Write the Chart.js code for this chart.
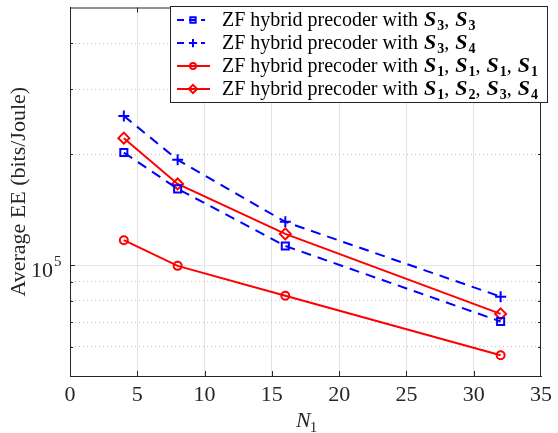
<!DOCTYPE html>
<html>
<head>
<meta charset="utf-8">
<script src="https://cdn.jsdelivr.net/npm/chart.js@4.4.0/dist/chart.umd.min.js"></script>
<style>
  html, body { margin: 0; padding: 0; background: #fff; }
</style>
</head>
<body>
<canvas id="chart" width="558" height="433"></canvas>
<script>
// data
const N1 = [4, 8, 16, 32];
const eeS3S3 = [2.02e5, 1.61e5, 1.127e5, 7.03e4];
const eeS3S4 = [2.54e5, 1.93e5, 1.31e5, 8.21e4];
const eeS1x4 = [1.168e5, 9.95e4, 8.26e4, 5.69e4];
const eeS1234 = [2.21e5, 1.66e5, 1.215e5, 7.37e4];

const xTicks = [0, 5, 10, 15, 20, 25, 30, 35];
const yTicks = [5e4, 6e4, 7e4, 8e4, 9e4, 1e5, 2e5, 3e5, 4e5, 5e5];
const legendPrefix = 'ZF hybrid precoder with ';
const legendSubs = [['3', '3'], ['3', '4'], ['1', '1', '1', '1'], ['1', '2', '3', '4']];

const AXIS = '#262626';
const SERIF = '"Liberation Serif", "Times New Roman", serif';

function pts(ys) {
    return N1.map((x, i) => ({ x: x, y: ys[i] }));
}

const datasets = [
    { data: pts(eeS3S3), borderColor: '#0000ff', borderDash: [10, 7], pointStyle: 'rect', pointRadius: 5 },
    { data: pts(eeS3S4), borderColor: '#0000ff', borderDash: [10, 7], pointStyle: 'cross', pointRadius: 5.5 },
    { data: pts(eeS1x4), borderColor: '#ff0000', borderDash: [], pointStyle: 'circle', pointRadius: 4 },
    { data: pts(eeS1234), borderColor: '#ff0000', borderDash: [], pointStyle: 'rectRot', pointRadius: 5.5 }
].map(d => Object.assign(d, {
    borderWidth: 2,
    pointBorderColor: d.borderColor,
    pointBackgroundColor: 'rgba(0,0,0,0)',
    pointBorderWidth: 2,
    tension: 0
}));

// frame, inward ticks, 10^5 label, N1 label, legend
const matlabFrame = {
    id: 'matlabFrame',
    afterDraw(chart) {
        const { ctx, chartArea: a, scales: { x, y } } = chart;
        ctx.save();
        ctx.strokeStyle = AXIS;
        ctx.lineWidth = 1;
        ctx.beginPath();
        ctx.moveTo(a.left, a.top + 0.5);
        ctx.lineTo(a.right, a.top + 0.5);
        ctx.moveTo(a.right - 0.5, a.top);
        ctx.lineTo(a.right - 0.5, a.bottom);
        // x ticks
        xTicks.slice(1, -1).forEach(v => {
            const px = Math.round(x.getPixelForValue(v)) + 0.5;
            ctx.moveTo(px, a.bottom); ctx.lineTo(px, a.bottom - 5);
            ctx.moveTo(px, a.top); ctx.lineTo(px, a.top + 5);
        });
        // y ticks
        yTicks.slice(1, -1).forEach(v => {
            const py = Math.round(y.getPixelForValue(v)) + 0.5;
            const len = v === 1e5 ? 5 : 3;
            ctx.moveTo(a.left, py); ctx.lineTo(a.left + len, py);
            ctx.moveTo(a.right, py); ctx.lineTo(a.right - len, py);
        });
        ctx.stroke();

        // 10^5 label
        const p5 = y.getPixelForValue(1e5);
        ctx.fillStyle = AXIS;
        ctx.textBaseline = 'alphabetic';
        ctx.textAlign = 'left';
        ctx.font = '22px ' + SERIF;
        ctx.fillText('10', 31, p5 + 12);
        const w10 = ctx.measureText('10').width;
        ctx.font = '15px ' + SERIF;
        ctx.fillText('5', 31 + w10 + 1, p5 + 1);

        // x axis title N_1
        ctx.font = 'italic 22px ' + SERIF;
        const nx = 296;
        ctx.fillText('N', nx, 427);
        const wN = ctx.measureText('N').width;
        ctx.font = '15px ' + SERIF;
        ctx.fillText('1', nx + wN - 1, 432);

        // legend
        const box = { l: 170, t: 6, r: 548, b: 103 };
        ctx.fillStyle = '#fff';
        ctx.fillRect(box.l, box.t, box.r - box.l, box.b - box.t);
        ctx.strokeStyle = AXIS;
        ctx.strokeRect(box.l + 0.5, box.t + 0.5, box.r - box.l - 1, box.b - box.t - 1);
        const rows = [20, 43, 66, 89];
        chart.data.datasets.forEach((ds, i) => {
            const ry = rows[i];
            ctx.save();
            ctx.strokeStyle = ds.borderColor;
            ctx.lineWidth = 2;
            ctx.setLineDash(ds.borderDash.length ? [7, 5] : []);
            ctx.beginPath();
            ctx.moveTo(177, ry);
            ctx.lineTo(ds.borderDash.length ? 205 : 210, ry);
            ctx.stroke();
            ctx.setLineDash([]);
            ctx.fillStyle = 'rgba(0,0,0,0)';
            Chart.helpers.drawPoint(ctx, {
                pointStyle: ds.pointStyle, radius: ds.pointRadius * 0.75,
                borderWidth: 2, rotation: 0
            }, 193, ry);
            ctx.restore();

            let tx = 222;
            const base = ry + 6;
            ctx.fillStyle = '#000';
            ctx.font = '20px ' + SERIF;
            ctx.fillText(legendPrefix, tx, base);
            tx += ctx.measureText(legendPrefix).width;
            legendSubs[i].forEach((s, k) => {
                if (k > 0) {
                    ctx.font = '20px ' + SERIF;
                    ctx.fillText(', ', tx, base);
                    tx += ctx.measureText(', ').width;
                }
                ctx.font = 'italic bold 22px ' + SERIF;
                tx += 1;
                ctx.fillText('S', tx, base);
                tx += ctx.measureText('S').width + 1;
                ctx.font = 'bold 14px ' + SERIF;
                ctx.fillText(s, tx, base + 4);
                tx += ctx.measureText(s).width;
            });
        });
        ctx.restore();
    }
};

new Chart(document.getElementById('chart'), {
    type: 'line',
    data: { datasets: datasets },
    options: {
        responsive: false,
        animation: false,
        devicePixelRatio: 1,
        layout: { padding: { top: 6, right: 10, left: 0, bottom: 0 } },
        plugins: {
            legend: { display: false },
            tooltip: { enabled: false }
        },
        scales: {
            x: {
                type: 'linear',
                min: 0,
                max: 35,
                afterBuildTicks: s => { s.ticks = xTicks.map(v => ({ value: v })); },
                afterFit: s => { s.height = 57; },
                grid: {
                    color: c => (c.tick && (c.tick.value === 0 || c.tick.value === 35)) ? 'rgba(0,0,0,0)' : '#e3e3e3',
                    drawTicks: false
                },
                border: { color: AXIS, width: 1 },
                ticks: {
                    font: { family: SERIF, size: 22 },
                    color: AXIS,
                    padding: 6,
                    maxRotation: 0
                }
            },
            y: {
                type: 'logarithmic',
                min: 5e4,
                max: 5e5,
                afterBuildTicks: s => { s.ticks = yTicks.map(v => ({ value: v })); },
                afterFit: s => { s.width = 70; },
                grid: {
                    color: c => {
                        if (!c.tick) return '#e3e3e3';
                        const v = c.tick.value;
                        if (v === 5e4 || v === 5e5) return 'rgba(0,0,0,0)';
                        return v === 1e5 ? '#e3e3e3' : '#c4c4c4';
                    },
                    drawTicks: false
                },
                border: {
                    color: AXIS,
                    width: 1,
                    dash: c => (c.tick && c.tick.value !== 1e5) ? [1, 3] : []
                },
                ticks: { display: false },
                title: {
                    display: true,
                    text: 'Average EE (bits/Joule)',
                    font: { family: SERIF, size: 22 },
                    color: AXIS,
                    padding: { top: 6, bottom: 0 }
                }
            }
        }
    },
    plugins: [matlabFrame]
});
</script>
</body>
</html>
